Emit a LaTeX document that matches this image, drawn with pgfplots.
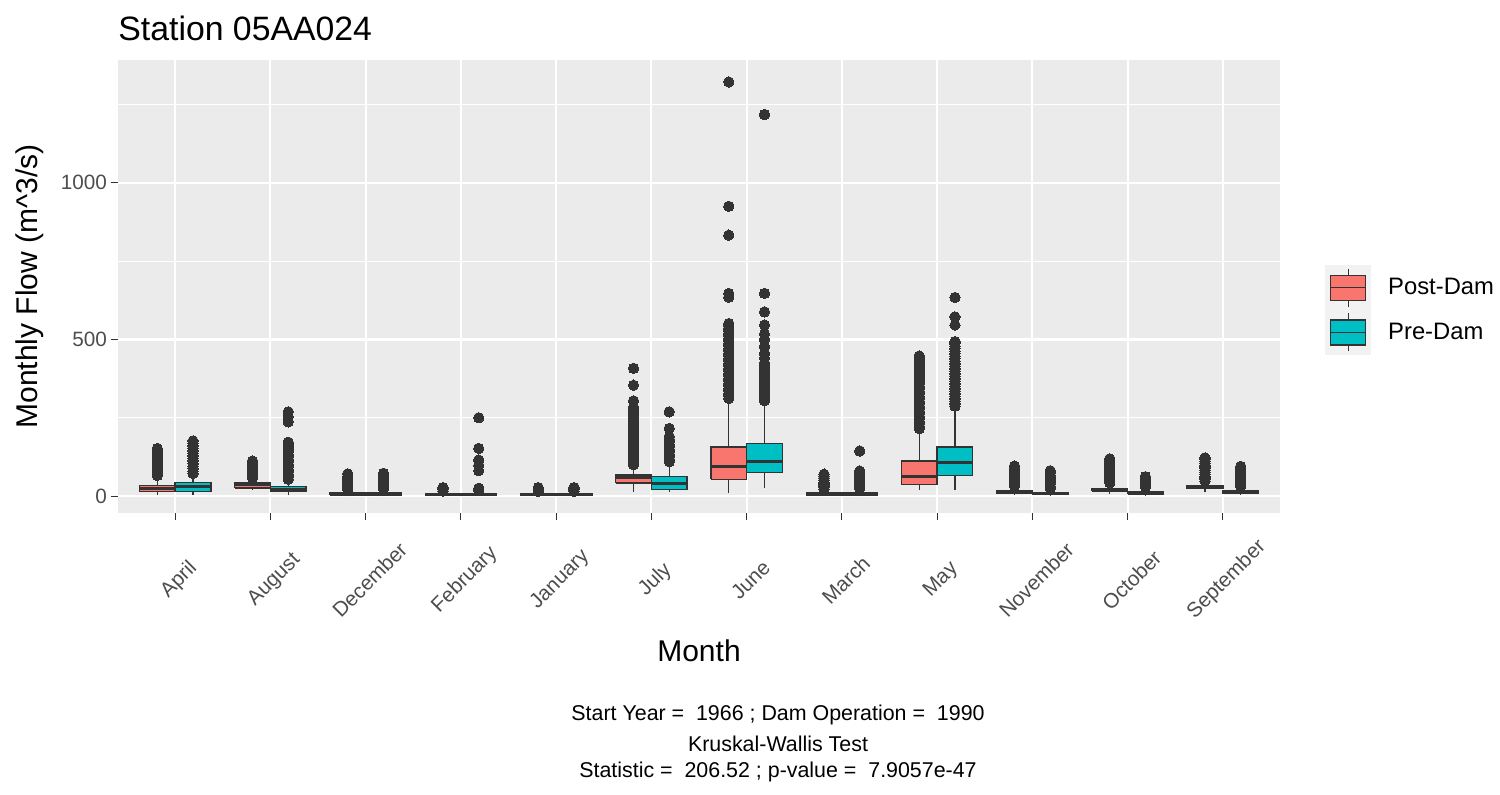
\documentclass[border=0pt]{standalone}
\usepackage{fontspec}
\setmainfont{Liberation Sans}
\usepackage{pgfplots}
\pgfplotsset{compat=1.18}
\definecolor{postc}{HTML}{F8766D}
\definecolor{prec}{HTML}{00BFC4}
\definecolor{dk}{HTML}{333333}
\definecolor{panel}{HTML}{EBEBEB}
\definecolor{keybg}{HTML}{F2F2F2}
\definecolor{tl}{HTML}{4D4D4D}
\pgfplotsset{
  wh/.style={draw=dk, line width=0.65pt, mark=none},
  pb/.style={draw=dk, fill=postc, line width=0.65pt, mark=none},
  qb/.style={draw=dk, fill=prec, line width=0.65pt, mark=none},
  md/.style={draw=dk, line width=1.5pt, mark=none},
  ol/.style={only marks, mark=*, mark size=2.6pt, mark options={fill=dk, draw=dk, line width=0pt}},
}
\begin{document}
\begin{tikzpicture}
\path[use as bounding box] (0,0) rectangle (750pt,397pt);
\begin{axis}[
  at={(59pt,140.5pt)}, anchor=south west,
  scale only axis, width=581pt, height=226.5pt,
  xmin=0.4, xmax=12.6, ymin=-54, ymax=1392,
  axis background/.style={fill=panel},
  axis line style={draw=none},
  xtick={1,2,3,4,5,6,7,8,9,10,11,12},
  xticklabels={April,August,December,February,January,July,June,March,May,November,October,September},
  ytick={0,500,1000},
  minor ytick={250,750,1250},
  xtick pos=left, ytick pos=left,
  tick align=outside,
  major tick length=3.5pt, minor tick length=0.01pt,
  tick style={dk, line width=0.5pt},
  minor tick style={draw=none},
  grid=both,
  major grid style={white, line width=1.1pt},
  minor grid style={white, line width=0.55pt},
  /pgf/number format/assume math mode=true,
  /pgf/number format/1000 sep={},
  ticklabel style={font=\fontsize{10.35}{12}\selectfont, text=tl},
  yticklabel style={xshift=1.5pt},
  xticklabel style={rotate=45, anchor=center, xshift=-19.8pt, yshift=-22.6pt},
  ylabel={Monthly Flow (m\textasciicircum3/s)},
  ylabel style={at={(axis description cs:-0.0757,0.5)}, anchor=center, font=\fontsize{15}{18}\selectfont},
  xlabel={Month},
  xlabel style={at={(axis description cs:0.5,-0.3046)}, anchor=center, font=\fontsize{15}{18}\selectfont},
  title={Station 05AA024},
  title style={at={(axis description cs:0,1)}, anchor=base west, yshift=4pt, inner sep=0pt, font=\fontsize{16.9}{20}\selectfont},
  legend style={at={(axis description cs:1,0.448)}, anchor=west, xshift=22.5pt, draw=none, fill=none, inner sep=0pt, row sep=0pt, font=\fontsize{11.9}{14}\selectfont, nodes={inner sep=0pt}, /tikz/every odd column/.append style={column sep=8.5pt}},
  legend cell align=left,
]
\addlegendimage{legend image code/.code={
  \fill[keybg] (0pt,-11pt) rectangle (22.5pt,11pt);
  \draw[dk, line width=0.6pt] (11.25pt,-9.5pt) -- (11.25pt,9.5pt);
  \filldraw[fill=postc, draw=dk, line width=0.6pt] (2.5pt,-6.25pt) rectangle (20pt,6.25pt);
  \draw[dk, line width=0.6pt] (2.5pt,0pt) -- (20pt,0pt);}}
\addlegendentry{Post-Dam}
\addlegendimage{legend image code/.code={
  \fill[keybg] (0pt,-11pt) rectangle (22.5pt,11pt);
  \draw[dk, line width=0.6pt] (11.25pt,-9.5pt) -- (11.25pt,9.5pt);
  \filldraw[fill=prec, draw=dk, line width=0.6pt] (2.5pt,-6.25pt) rectangle (20pt,6.25pt);
  \draw[dk, line width=0.6pt] (2.5pt,0pt) -- (20pt,0pt);}}
\addlegendentry{Pre-Dam}

% ---------- April ----------
\addplot[wh] coordinates {(0.8125,5) (0.8125,62)};
\addplot[pb] coordinates {(0.625,14) (1,14) (1,34) (0.625,34) (0.625,14)};
\addplot[md] coordinates {(0.625,25) (1,25)};
\addplot[ol] coordinates {(0.8125,66) (0.8125,74) (0.8125,82) (0.8125,90) (0.8125,98) (0.8125,106) (0.8125,114) (0.8125,122) (0.8125,130) (0.8125,138) (0.8125,146) (0.8125,152)};
\addplot[wh] coordinates {(1.1875,3) (1.1875,68)};
\addplot[qb] coordinates {(1,14) (1.375,14) (1.375,44) (1,44) (1,14)};
\addplot[md] coordinates {(1,32) (1.375,32)};
\addplot[ol] coordinates {(1.1875,72) (1.1875,80) (1.1875,88) (1.1875,96) (1.1875,104) (1.1875,112) (1.1875,120) (1.1875,128) (1.1875,136) (1.1875,144) (1.1875,152) (1.1875,160) (1.1875,168) (1.1875,176)};
% ---------- August ----------
\addplot[wh] coordinates {(1.8125,18) (1.8125,54)};
\addplot[pb] coordinates {(1.625,26) (2,26) (2,42) (1.625,42) (1.625,26)};
\addplot[md] coordinates {(1.625,36) (2,36)};
\addplot[ol] coordinates {(1.8125,58) (1.8125,66) (1.8125,74) (1.8125,82) (1.8125,90) (1.8125,98) (1.8125,106) (1.8125,112)};
\addplot[wh] coordinates {(2.1875,2) (2.1875,50)};
\addplot[qb] coordinates {(2,14) (2.375,14) (2.375,30) (2,30) (2,14)};
\addplot[md] coordinates {(2,22) (2.375,22)};
\addplot[ol] coordinates {(2.1875,54) (2.1875,62) (2.1875,70) (2.1875,78) (2.1875,86) (2.1875,94) (2.1875,102) (2.1875,110) (2.1875,118) (2.1875,126) (2.1875,134) (2.1875,142) (2.1875,150) (2.1875,158) (2.1875,166) (2.1875,172) (2.1875,237) (2.1875,253) (2.1875,269)};
% ---------- December ----------
\addplot[wh] coordinates {(2.8125,0) (2.8125,20)};
\addplot[pb] coordinates {(2.625,3) (3,3) (3,10) (2.625,10) (2.625,3)};
\addplot[md] coordinates {(2.625,6) (3,6)};
\addplot[ol] coordinates {(2.8125,22) (2.8125,29) (2.8125,36) (2.8125,43) (2.8125,50) (2.8125,57) (2.8125,64) (2.8125,71)};
\addplot[wh] coordinates {(3.1875,0) (3.1875,22)};
\addplot[qb] coordinates {(3,3) (3.375,3) (3.375,11) (3,11) (3,3)};
\addplot[md] coordinates {(3,7) (3.375,7)};
\addplot[ol] coordinates {(3.1875,24) (3.1875,31) (3.1875,38) (3.1875,45) (3.1875,52) (3.1875,59) (3.1875,66) (3.1875,73)};
% ---------- February ----------
\addplot[wh] coordinates {(3.8125,0) (3.8125,14)};
\addplot[pb] coordinates {(3.625,3) (4,3) (4,8) (3.625,8) (3.625,3)};
\addplot[md] coordinates {(3.625,5) (4,5)};
\addplot[ol] coordinates {(3.8125,16) (3.8125,22) (3.8125,27)};
\addplot[wh] coordinates {(4.1875,0) (4.1875,16)};
\addplot[qb] coordinates {(4,3) (4.375,3) (4.375,9) (4,9) (4,3)};
\addplot[md] coordinates {(4,6) (4.375,6)};
\addplot[ol] coordinates {(4.1875,18) (4.1875,25) (4.1875,81) (4.1875,98) (4.1875,115) (4.1875,152) (4.1875,250)};
% ---------- January ----------
\addplot[wh] coordinates {(4.8125,0) (4.8125,13)};
\addplot[pb] coordinates {(4.625,3) (5,3) (5,8) (4.625,8) (4.625,3)};
\addplot[md] coordinates {(4.625,5) (5,5)};
\addplot[ol] coordinates {(4.8125,15) (4.8125,21) (4.8125,27)};
\addplot[wh] coordinates {(5.1875,0) (5.1875,13)};
\addplot[qb] coordinates {(5,3) (5.375,3) (5.375,8) (5,8) (5,3)};
\addplot[md] coordinates {(5,5) (5.375,5)};
\addplot[ol] coordinates {(5.1875,15) (5.1875,21) (5.1875,27)};
% ---------- July ----------
\addplot[wh] coordinates {(5.8125,14) (5.8125,94)};
\addplot[pb] coordinates {(5.625,42) (6,42) (6,67) (5.625,67) (5.625,42)};
\addplot[md] coordinates {(5.625,60) (6,60)};
\addplot[ol] coordinates {(5.8125,100) (5.8125,108) (5.8125,116) (5.8125,124) (5.8125,132) (5.8125,140) (5.8125,148) (5.8125,156) (5.8125,164) (5.8125,172) (5.8125,180) (5.8125,188) (5.8125,196) (5.8125,204) (5.8125,212) (5.8125,220) (5.8125,228) (5.8125,236) (5.8125,244) (5.8125,252) (5.8125,260) (5.8125,268) (5.8125,276) (5.8125,284) (5.8125,304) (5.8125,354) (5.8125,408)};
\addplot[wh] coordinates {(6.1875,14) (6.1875,104)};
\addplot[qb] coordinates {(6,22) (6.375,22) (6.375,62) (6,62) (6,22)};
\addplot[md] coordinates {(6,40) (6.375,40)};
\addplot[ol] coordinates {(6.1875,110) (6.1875,118) (6.1875,126) (6.1875,134) (6.1875,142) (6.1875,150) (6.1875,158) (6.1875,166) (6.1875,174) (6.1875,182) (6.1875,190) (6.1875,216) (6.1875,269)};
% ---------- June ----------
\addplot[wh] coordinates {(6.8125,9) (6.8125,306)};
\addplot[pb] coordinates {(6.625,53) (7,53) (7,157) (6.625,157) (6.625,53)};
\addplot[md] coordinates {(6.625,96) (7,96)};
\addplot[ol] coordinates {(6.8125,312) (6.8125,320) (6.8125,328) (6.8125,336) (6.8125,344) (6.8125,352) (6.8125,360) (6.8125,368) (6.8125,376) (6.8125,384) (6.8125,392) (6.8125,400) (6.8125,408) (6.8125,416) (6.8125,424) (6.8125,432) (6.8125,440) (6.8125,448) (6.8125,456) (6.8125,464) (6.8125,472) (6.8125,480) (6.8125,488) (6.8125,496) (6.8125,504) (6.8125,512) (6.8125,520) (6.8125,528) (6.8125,536) (6.8125,544) (6.8125,551) (6.8125,635) (6.8125,647) (6.8125,833) (6.8125,925) (6.8125,1322)};
\addplot[wh] coordinates {(7.1875,25) (7.1875,298)};
\addplot[qb] coordinates {(7,76) (7.375,76) (7.375,168) (7,168) (7,76)};
\addplot[md] coordinates {(7,110) (7.375,110)};
\addplot[ol] coordinates {(7.1875,305) (7.1875,313) (7.1875,321) (7.1875,329) (7.1875,337) (7.1875,345) (7.1875,353) (7.1875,361) (7.1875,369) (7.1875,377) (7.1875,385) (7.1875,393) (7.1875,401) (7.1875,409) (7.1875,417) (7.1875,425) (7.1875,440) (7.1875,455) (7.1875,477) (7.1875,500) (7.1875,517) (7.1875,546) (7.1875,588) (7.1875,647) (7.1875,1218)};
% ---------- March ----------
\addplot[wh] coordinates {(7.8125,0) (7.8125,20)};
\addplot[pb] coordinates {(7.625,3) (8,3) (8,10) (7.625,10) (7.625,3)};
\addplot[md] coordinates {(7.625,6) (8,6)};
\addplot[ol] coordinates {(7.8125,22) (7.8125,29) (7.8125,36) (7.8125,43) (7.8125,50) (7.8125,57) (7.8125,64) (7.8125,70)};
\addplot[wh] coordinates {(8.1875,0) (8.1875,22)};
\addplot[qb] coordinates {(8,3) (8.375,3) (8.375,11) (8,11) (8,3)};
\addplot[md] coordinates {(8,7) (8.375,7)};
\addplot[ol] coordinates {(8.1875,24) (8.1875,31) (8.1875,38) (8.1875,45) (8.1875,52) (8.1875,59) (8.1875,66) (8.1875,73) (8.1875,80) (8.1875,144)};
% ---------- May ----------
\addplot[wh] coordinates {(8.8125,19) (8.8125,211)};
\addplot[pb] coordinates {(8.625,37) (9,37) (9,112) (8.625,112) (8.625,37)};
\addplot[md] coordinates {(8.625,62) (9,62)};
\addplot[ol] coordinates {(8.8125,215) (8.8125,223) (8.8125,231) (8.8125,239) (8.8125,247) (8.8125,255) (8.8125,263) (8.8125,271) (8.8125,279) (8.8125,287) (8.8125,295) (8.8125,303) (8.8125,311) (8.8125,319) (8.8125,327) (8.8125,335) (8.8125,343) (8.8125,351) (8.8125,359) (8.8125,367) (8.8125,375) (8.8125,383) (8.8125,391) (8.8125,399) (8.8125,407) (8.8125,415) (8.8125,423) (8.8125,431) (8.8125,439) (8.8125,447)};
\addplot[wh] coordinates {(9.1875,19) (9.1875,280)};
\addplot[qb] coordinates {(9,65) (9.375,65) (9.375,157) (9,157) (9,65)};
\addplot[md] coordinates {(9,106) (9.375,106)};
\addplot[ol] coordinates {(9.1875,287) (9.1875,295) (9.1875,303) (9.1875,311) (9.1875,319) (9.1875,327) (9.1875,335) (9.1875,343) (9.1875,351) (9.1875,359) (9.1875,367) (9.1875,375) (9.1875,383) (9.1875,391) (9.1875,399) (9.1875,407) (9.1875,415) (9.1875,423) (9.1875,431) (9.1875,439) (9.1875,447) (9.1875,455) (9.1875,463) (9.1875,471) (9.1875,479) (9.1875,487) (9.1875,493) (9.1875,546) (9.1875,572) (9.1875,634)};
% ---------- November ----------
\addplot[wh] coordinates {(9.8125,2) (9.8125,30)};
\addplot[pb] coordinates {(9.625,8) (10,8) (10,18) (9.625,18) (9.625,8)};
\addplot[md] coordinates {(9.625,12) (10,12)};
\addplot[ol] coordinates {(9.8125,33) (9.8125,40) (9.8125,47) (9.8125,54) (9.8125,61) (9.8125,68) (9.8125,75) (9.8125,82) (9.8125,89) (9.8125,96)};
\addplot[wh] coordinates {(10.1875,0) (10.1875,22)};
\addplot[qb] coordinates {(10,4) (10.375,4) (10.375,12) (10,12) (10,4)};
\addplot[md] coordinates {(10,8) (10.375,8)};
\addplot[ol] coordinates {(10.1875,25) (10.1875,32) (10.1875,39) (10.1875,46) (10.1875,53) (10.1875,60) (10.1875,67) (10.1875,74) (10.1875,81)};
% ---------- October ----------
\addplot[wh] coordinates {(10.8125,8) (10.8125,38)};
\addplot[pb] coordinates {(10.625,16) (11,16) (11,25) (10.625,25) (10.625,16)};
\addplot[md] coordinates {(10.625,20) (11,20)};
\addplot[ol] coordinates {(10.8125,42) (10.8125,49) (10.8125,56) (10.8125,63) (10.8125,70) (10.8125,77) (10.8125,84) (10.8125,91) (10.8125,98) (10.8125,105) (10.8125,112) (10.8125,119)};
\addplot[wh] coordinates {(11.1875,0) (11.1875,26)};
\addplot[qb] coordinates {(11,6) (11.375,6) (11.375,14) (11,14) (11,6)};
\addplot[md] coordinates {(11,10) (11.375,10)};
\addplot[ol] coordinates {(11.1875,29) (11.1875,36) (11.1875,43) (11.1875,50) (11.1875,57) (11.1875,62)};
% ---------- September ----------
\addplot[wh] coordinates {(11.8125,12) (11.8125,45)};
\addplot[pb] coordinates {(11.625,24) (12,24) (12,33) (11.625,33) (11.625,24)};
\addplot[md] coordinates {(11.625,29) (12,29)};
\addplot[ol] coordinates {(11.8125,48) (11.8125,55) (11.8125,62) (11.8125,69) (11.8125,76) (11.8125,83) (11.8125,90) (11.8125,97) (11.8125,104) (11.8125,111) (11.8125,118) (11.8125,122)};
\addplot[wh] coordinates {(12.1875,2) (12.1875,30)};
\addplot[qb] coordinates {(12,8) (12.375,8) (12.375,17) (12,17) (12,8)};
\addplot[md] coordinates {(12,13) (12.375,13)};
\addplot[ol] coordinates {(12.1875,32) (12.1875,39) (12.1875,46) (12.1875,53) (12.1875,60) (12.1875,67) (12.1875,74) (12.1875,81) (12.1875,88) (12.1875,95)};
\end{axis}
\node[font=\fontsize{10.7}{13}\selectfont] at (389pt,39.5pt) {Start Year =\ \ 1966 ; Dam Operation =\ \ 1990};
\node[font=\fontsize{10.7}{13}\selectfont] at (389pt,25pt) {Kruskal-Wallis Test};
\node[font=\fontsize{10.7}{13}\selectfont] at (389pt,11pt) {Statistic =\ \ 206.52 ; p-value =\ \ 7.9057e-47};
\end{tikzpicture}
\end{document}
